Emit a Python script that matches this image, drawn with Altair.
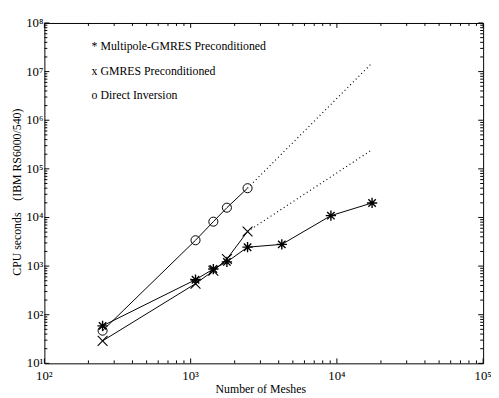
import altair as alt
import pandas as pd

# ---- data ----
multipole_meshes = [250, 1080, 1430, 1770, 2450, 4200, 9100, 17400]
multipole_cpu = [59, 525, 870, 1220, 2450, 2800, 10900, 19900]

gmres_meshes = [250, 1080, 1430, 1770, 2450]
gmres_cpu = [29, 435, 800, 1400, 5150]

direct_meshes = [250, 1080, 1430, 1770, 2450]
direct_cpu = [47, 3400, 8200, 15900, 40000]

gmres_extrap_meshes = [2450, 17000]
gmres_extrap_cpu = [5150, 236000]
direct_extrap_meshes = [2450, 17000]
direct_extrap_cpu = [40000, 14000000]

x_major = [1e2, 1e3, 1e4, 1e5]
x_labels = ["10\u00b2", "10\u00b3", "10\u2074", "10\u2075"]
y_major = [1e1, 1e2, 1e3, 1e4, 1e5, 1e6, 1e7, 1e8]
y_labels = ["10\u00b9", "10\u00b2", "10\u00b3", "10\u2074", "10\u2075", "10\u2076", "10\u2077", "10\u2078"]
x_minor = [k * d for d in [1e2, 1e3, 1e4] for k in range(2, 10)]
y_minor = [k * d for d in [1e1, 1e2, 1e3, 1e4, 1e5, 1e6, 1e7] for k in range(2, 10)]

legend_labels = ["* Multipole-GMRES Preconditioned", "x GMRES Preconditioned", "o Direct Inversion"]
x_title = "Number of Meshes"
y_title = "CPU seconds\u00a0\u00a0\u00a0\u00a0(IBM RS6000/540)"

# ---- layout ----
W, H = 446, 346
FONT = "Liberation Serif"
FS = 12
xs = alt.Scale(type="log", domain=[1e2, 1e5], nice=False)
ys = alt.Scale(type="log", domain=[1e1, 1e8], nice=False)

series = pd.concat([
    pd.DataFrame({"series": "multipole", "meshes": multipole_meshes, "cpu": multipole_cpu}),
    pd.DataFrame({"series": "gmres", "meshes": gmres_meshes, "cpu": gmres_cpu}),
    pd.DataFrame({"series": "direct", "meshes": direct_meshes, "cpu": direct_cpu}),
], ignore_index=True)
series["order"] = series.groupby("series").cumcount()

extrap = pd.concat([
    pd.DataFrame({"series": "gmres", "meshes": gmres_extrap_meshes, "cpu": gmres_extrap_cpu}),
    pd.DataFrame({"series": "direct", "meshes": direct_extrap_meshes, "cpu": direct_extrap_cpu}),
], ignore_index=True)

X = lambda f: alt.X(f, scale=xs, axis=None)
Y = lambda f: alt.Y(f, scale=ys, axis=None)

lines = alt.Chart(series).mark_line(color="black", strokeWidth=1).encode(
    x=X("meshes:Q"), y=Y("cpu:Q"), detail="series:N", order="order:Q",
)

dotted = alt.Chart(extrap).mark_line(color="black", strokeWidth=1.2, strokeDash=[1, 3]).encode(
    x=X("meshes:Q"), y=Y("cpu:Q"), detail="series:N",
)

ASTER = "M-1,0L1,0M0,-1L0,1M-0.72,-0.72L0.72,0.72M-0.72,0.72L0.72,-0.72"
XSHAPE = "M-1,-1L1,1M-1,1L1,-1"

def pts(name, shape, size, sw):
    return alt.Chart(series[series["series"] == name]).mark_point(
        shape=shape, size=size, filled=False, color="black", strokeWidth=sw, opacity=1
    ).encode(x=X("meshes:Q"), y=Y("cpu:Q"))

p_multi = pts("multipole", ASTER, 110, 1.4)
p_gmres = pts("gmres", XSHAPE, 100, 1.1)
p_direct = pts("direct", "circle", 85, 1)

def xticks(values, length):
    df = pd.DataFrame({"v": values})
    bottom = alt.Chart(df).mark_rule(color="black", strokeWidth=1).encode(
        x=X("v:Q"), y=alt.value(H), y2=alt.value(H - length))
    top = alt.Chart(df).mark_rule(color="black", strokeWidth=1).encode(
        x=X("v:Q"), y=alt.value(0), y2=alt.value(length))
    return [bottom, top]

def yticks(values, length):
    df = pd.DataFrame({"v": values})
    left = alt.Chart(df).mark_rule(color="black", strokeWidth=1).encode(
        y=Y("v:Q"), x=alt.value(0), x2=alt.value(length))
    right = alt.Chart(df).mark_rule(color="black", strokeWidth=1).encode(
        y=Y("v:Q"), x=alt.value(W), x2=alt.value(W - length))
    return [left, right]

txt = dict(font=FONT, fontSize=FS, color="black")

xlab = alt.Chart(pd.DataFrame({"v": x_major, "t": x_labels})).mark_text(
    align="center", baseline="alphabetic", fontSize=13, font=FONT, color="black"
).encode(x=X("v:Q"), y=alt.value(H + 17), text="t:N")

ylab = alt.Chart(pd.DataFrame({"v": y_major, "t": y_labels})).mark_text(
    align="right", baseline="middle", dx=-1, fontSize=13, font=FONT, color="black"
).encode(y=Y("v:Q"), x=alt.value(0), text="t:N")

legend_rows = []
for lbl, ypos in zip(legend_labels, [23, 49, 73]):
    legend_rows.append(
        alt.Chart(pd.DataFrame({"t": [lbl]})).mark_text(align="left", baseline="middle", **txt)
        .encode(x=alt.value(48), y=alt.value(ypos), text="t:N")
    )

xtitle = alt.Chart(pd.DataFrame({"t": [x_title]})).mark_text(
    align="center", baseline="alphabetic", **txt
).encode(x=alt.value(W / 2 - 3), y=alt.value(H + 30), text="t:N")

ytitle = alt.Chart(pd.DataFrame({"t": [y_title]})).mark_text(
    align="center", baseline="middle", angle=270, **txt
).encode(x=alt.value(-28), y=alt.value(H / 2 - 1), text="t:N")

chart = alt.layer(
    lines, dotted, p_multi, p_gmres, p_direct,
    *xticks(x_major, 5), *xticks(x_minor, 3), *yticks(y_major, 5), *yticks(y_minor, 3),
    xlab, ylab, *legend_rows, xtitle, ytitle,
).properties(
    width=W, height=H,
    autosize=alt.AutoSizeParams(type="none"),
    padding={"left": 37, "top": 12, "right": 8, "bottom": 32},
    background="white",
).configure_view(stroke="black", strokeWidth=1)

chart.save("out.html", embed_options={"renderer": "svg", "actions": False})
